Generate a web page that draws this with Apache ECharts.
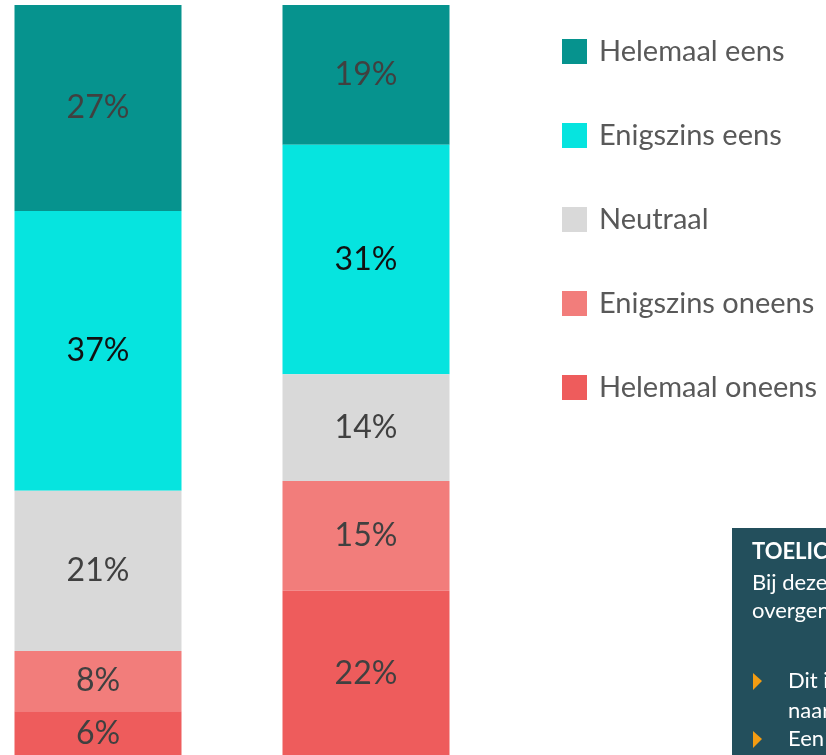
<!DOCTYPE html>
<html>
<head>
<meta charset="utf-8">
<script src="https://cdn.jsdelivr.net/npm/echarts@6/dist/echarts.min.js"></script>
<style>
  html, body { margin: 0; padding: 0; background: #fff; }
  #main { width: 826px; height: 755px; }
</style>
</head>
<body>
<div id="main"></div>
<script>
// twee groepen, waarden in procenten (geschat uit de figuur)
var groepen = ['Groep A', 'Groep B'];
var antwoorden = ['Helemaal eens', 'Enigszins eens', 'Neutraal', 'Enigszins oneens', 'Helemaal oneens'];
var helemaalEens = [27.4, 18.6];
var enigszinsEens = [37.2, 30.5];
var neutraal = [21.3, 14.2];
var enigszinsOneens = [8.0, 14.6];
var helemaalOneens = [6.1, 22.1];
var kleuren = ['#06938e', '#06e4df', '#d9d9d9', '#f27d7b', '#ee5c5c'];
var labelKleuren = ['#404040', '#111111', '#404040', '#404040', '#404040'];

var waarden = [helemaalEens, enigszinsEens, neutraal, enigszinsOneens, helemaalOneens];

var myChart = echarts.init(document.getElementById('main'));

var series = antwoorden.map(function (naam, i) {
  return {
    name: naam,
    type: 'bar',
    stack: 'totaal',
    barWidth: 167,
    data: waarden[i],
    itemStyle: { color: kleuren[i] },
    label: {
      show: true,
      position: 'inside',
      formatter: function (p) { return Math.round(p.value) + '%'; },
      color: labelKleuren[i],
      fontFamily: 'Lato',
      fontSize: 32
    }
  };
});

myChart.setOption({
  animation: false,
  grid: { left: -36, width: 536, top: 5, height: 752, outerBoundsMode: 'none' },
  xAxis: {
    type: 'category',
    data: groepen,
    show: false
  },
  yAxis: {
    type: 'value',
    min: 0,
    max: 100,
    inverse: true,
    show: false
  },
  legend: {
    orient: 'vertical',
    left: 557,
    top: 32,
    itemWidth: 25,
    itemHeight: 25,
    itemGap: 55,
    icon: 'rect',
    data: antwoorden,
    textStyle: {
      fontFamily: 'Lato',
      fontSize: 29,
      color: '#595959',
      padding: [0, 0, 0, 7]
    }
  },
  series: series,
  graphic: [
    {
      type: 'group',
      left: 732,
      top: 528,
      children: [
        { type: 'rect', shape: { x: 0, y: 0, width: 300, height: 240 }, style: { fill: '#234f5c' } },
        { type: 'text', x: 20, y: 13, style: { text: 'TOELICHTING', fill: '#fff', font: 'bold 22px Lato' } },
        { type: 'text', x: 20, y: 44, style: { text: 'Bij deze vraag', fill: '#fff', font: '22px Lato' } },
        { type: 'text', x: 20, y: 72, style: { text: 'overgenomen', fill: '#fff', font: '22px Lato' } },
        { type: 'polygon', shape: { points: [[21, 145], [30, 153], [21, 162]] }, style: { fill: '#f39c12' } },
        { type: 'text', x: 56, y: 142, style: { text: 'Dit is', fill: '#fff', font: '22px Lato' } },
        { type: 'text', x: 56, y: 172, style: { text: 'naar', fill: '#fff', font: '22px Lato' } },
        { type: 'polygon', shape: { points: [[21, 203], [30, 211], [21, 220]] }, style: { fill: '#f39c12' } },
        { type: 'text', x: 56, y: 200, style: { text: 'Een', fill: '#fff', font: '22px Lato' } }
      ]
    }
  ]
});
</script>
</body>
</html>
